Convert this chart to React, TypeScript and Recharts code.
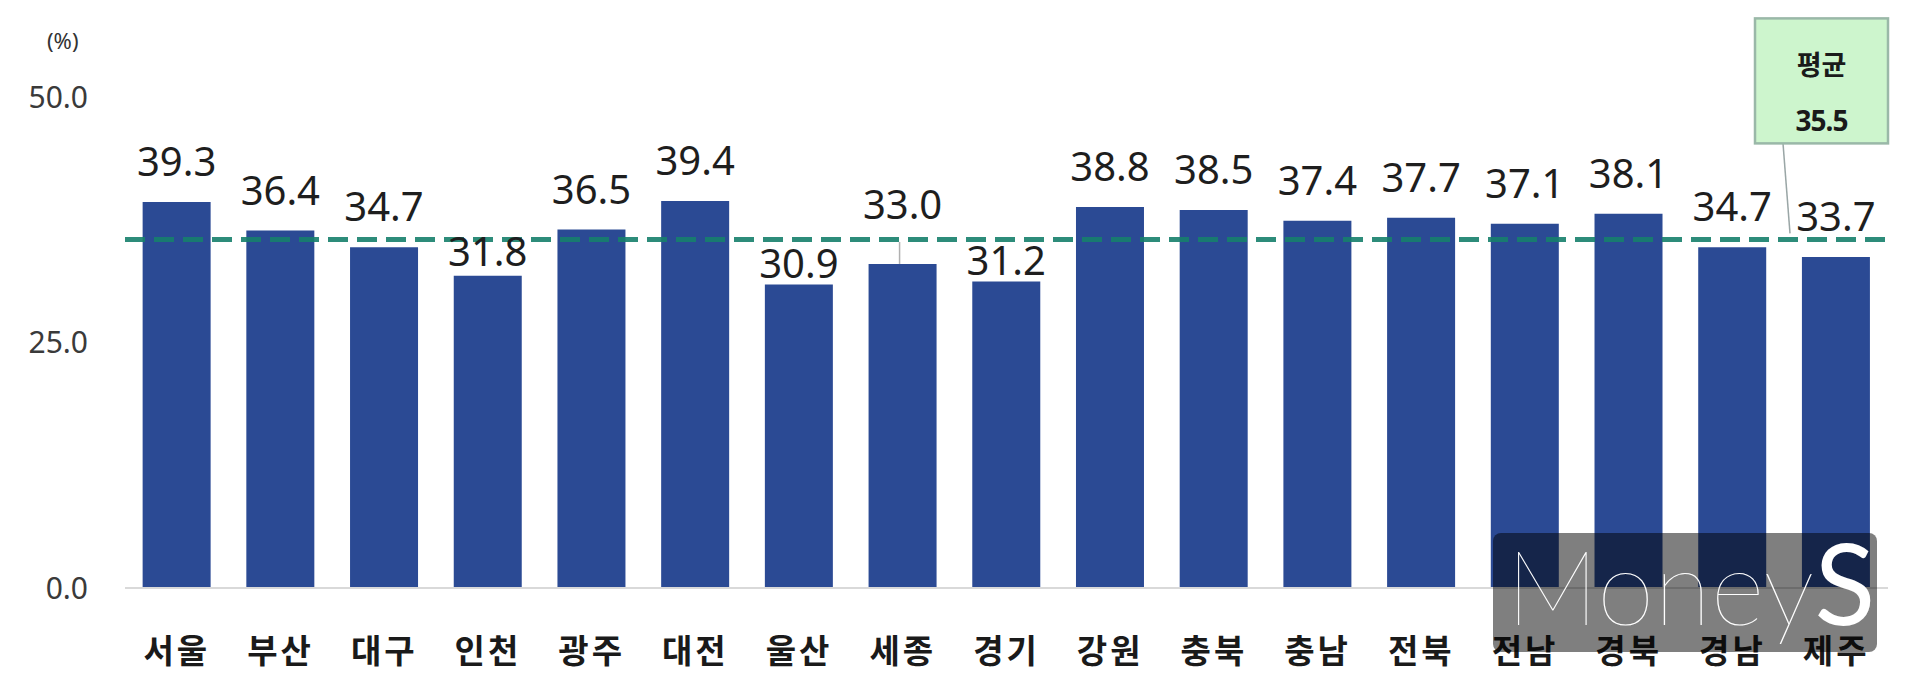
import React from "react";
import { BarChart, Bar, XAxis, YAxis, ReferenceLine, LabelList } from "recharts";

const regions = ["서울", "부산", "대구", "인천", "광주", "대전", "울산", "세종", "경기", "강원", "충북", "충남", "전북", "전남", "경북", "경남", "제주"];
const rates = [39.3, 36.4, 34.7, 31.8, 36.5, 39.4, 30.9, 33.0, 31.2, 38.8, 38.5, 37.4, 37.7, 37.1, 38.1, 34.7, 33.7];
const averageRate = 35.5;
const yTicks = [0, 25, 50];
const averageTitle = "평균";
const unitLabel = "(%)";

const data = regions.map((region, i) => ({ region, rate: rates[i] }));

// label placement style (distance of label baseline above bar top)
const labelLift: Record<string, number> = { 인천: 10, 울산: 7, 경기: 7, 세종: 45 };
const DEFAULT_LIFT = 26;

const NUM_FONT = "'Noto Sans', 'Noto Sans CJK KR', sans-serif";
const KR_FONT = "'Noto Sans CJK KR', 'Noto Sans', sans-serif";

const ValueLabel = (props: any) => {
  const { x, y, width, value, index } = props;
  const region = regions[index];
  const lift = labelLift[region] ?? DEFAULT_LIFT;
  const cx = x + width / 2;
  return (
    <g>
      {region === "세종" && (
        <line x1={cx - 3} y1={y - 22} x2={cx - 3} y2={y} stroke="#b0b0b0" strokeWidth={1.5} />
      )}
      <text x={cx} y={y - lift} textAnchor="middle" fontSize={40} fontFamily={NUM_FONT} fill="#1e1e1e">
        {Number(value).toFixed(1)}
      </text>
    </g>
  );
};

const AverageBox = (props: any) => {
  const { viewBox } = props;
  if (!viewBox) return null;
  const right = viewBox.x + viewBox.width;
  const ly = viewBox.y;
  const bw = 133;
  const bx = right - bw;
  const top = ly - 221;
  const bottom = ly - 96;
  return (
    <g>
      <line x1={bx + 28} y1={bottom} x2={bx + 35} y2={ly - 6} stroke="#9aa6a6" strokeWidth={1.5} />
      <rect x={bx} y={top} width={bw} height={bottom - top} fill="#cdf5cd" stroke="#9ab8a8" strokeWidth={2.5} />
      <text x={bx + bw / 2} y={top + 57} textAnchor="middle" fontSize={27} fontWeight={700} fontFamily={KR_FONT} fill="#1a1a1a">
        {averageTitle}
      </text>
      <text x={bx + bw / 2} y={top + 113} textAnchor="middle" fontSize={28} fontWeight={700} fontFamily={NUM_FONT} fill="#1a1a1a" letterSpacing={-1}>
        {averageRate.toFixed(1)}
      </text>
    </g>
  );
};

export default function App() {
  return (
    <div style={{ position: "absolute", left: 0, top: 0, width: 1920, height: 697, background: "#fff" }}>
      <BarChart
        width={1920}
        height={697}
        data={data}
        margin={{ top: 97, right: 32, left: 0, bottom: 0 }}
        barCategoryGap="17%"
      >
        <XAxis
          dataKey="region"
          height={109}
          axisLine={{ stroke: "#d9d9d9", strokeWidth: 2 }}
          tickLine={false}
          tickSize={0}
          tickMargin={52}
          interval={0}
          tick={{ fontSize: 33, fontWeight: 700, fontFamily: KR_FONT, fill: "#1a1a1a", letterSpacing: 3 }}
        />
        <YAxis
          width={125}
          domain={[0, 50]}
          ticks={yTicks}
          axisLine={false}
          tickLine={false}
          tickSize={0}
          tickMargin={37}
          tickFormatter={(v: number) => v.toFixed(1)}
          tick={{ fontSize: 30, fontFamily: NUM_FONT, fill: "#3a3a3a" }}
        />
        <Bar dataKey="rate" fill="#2b4a94" isAnimationActive={false}>
          <LabelList dataKey="rate" content={ValueLabel} />
        </Bar>
        <ReferenceLine
          y={averageRate}
          stroke="#16806c"
          strokeWidth={5}
          strokeDasharray="20 9"
          strokeOpacity={0.9}
          label={AverageBox}
        />
      </BarChart>
      <div
        style={{
          position: "absolute",
          left: 47,
          top: 25,
          fontSize: 22,
          fontFamily: NUM_FONT,
          color: "#333",
        }}
      >
        {unitLabel}
      </div>
      <svg style={{ position: "absolute", left: 0, top: 0 }} width={1920} height={697} pointerEvents="none">
        <rect x={1493} y={533} width={384} height={119} rx={8} fill="rgba(0,0,0,0.5)" />
        <text x={1506} y={625} fontSize={104} fontFamily="Lato, Roboto, sans-serif" fill="#fff">
          <tspan fontWeight={100}>Money</tspan>
          <tspan fontWeight={400} fontSize={112}>S</tspan>
        </text>
      </svg>
    </div>
  );
}
